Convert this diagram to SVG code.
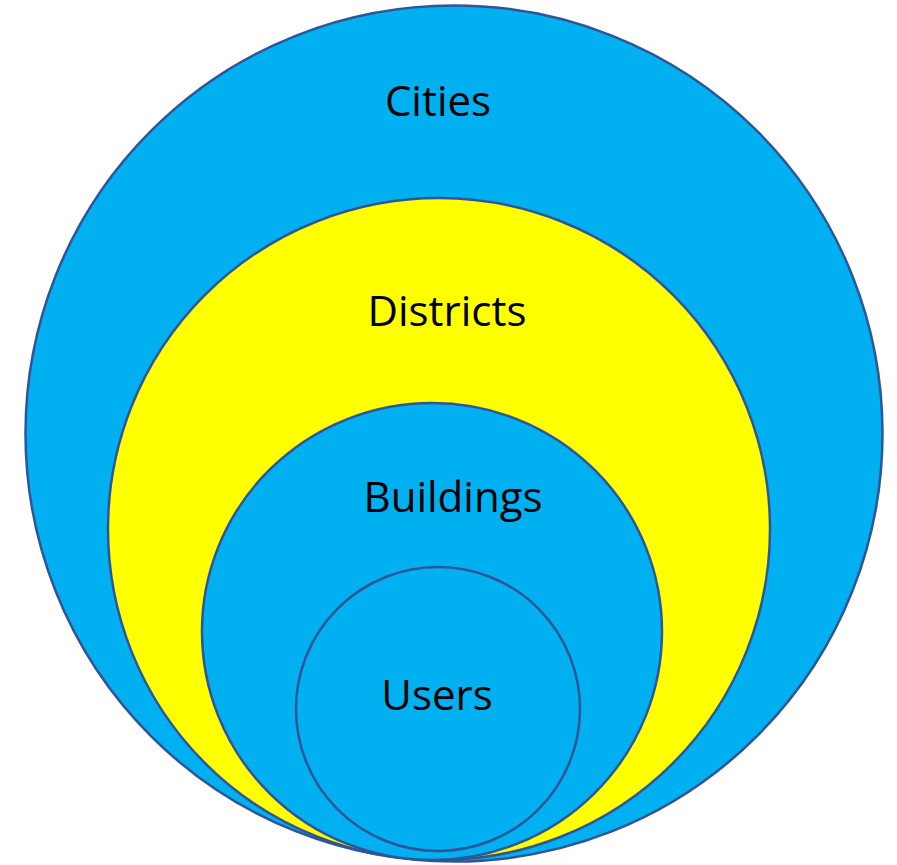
<svg xmlns="http://www.w3.org/2000/svg" width="897" height="865" viewBox="0 0 897 865">
<style>
.c{stroke:#2F5597;stroke-width:2.5}
.b{fill:#00B0F0}
.y{fill:#FFFF00}
text{font-family:"Open Sans","Liberation Sans",sans-serif;font-size:42px;fill:#000;text-anchor:middle}
</style>
<rect width="897" height="865" fill="#fff"/>
<g id="cities"><ellipse class="c b" cx="454" cy="433.5" rx="428.5" ry="428"/><text x="438" y="116">Cities</text></g>
<g id="districts"><ellipse class="c y" cx="439" cy="529" rx="331" ry="331"/><text x="447" y="326">Districts</text></g>
<g id="buildings"><ellipse class="c b" cx="432" cy="631.5" rx="230" ry="228.5"/><text x="453" y="512">Buildings</text></g>
<g id="users"><ellipse class="c b" cx="438" cy="709" rx="142" ry="142"/><text x="437" y="710">Users</text></g>
<g id="connectors"/>
</svg>
